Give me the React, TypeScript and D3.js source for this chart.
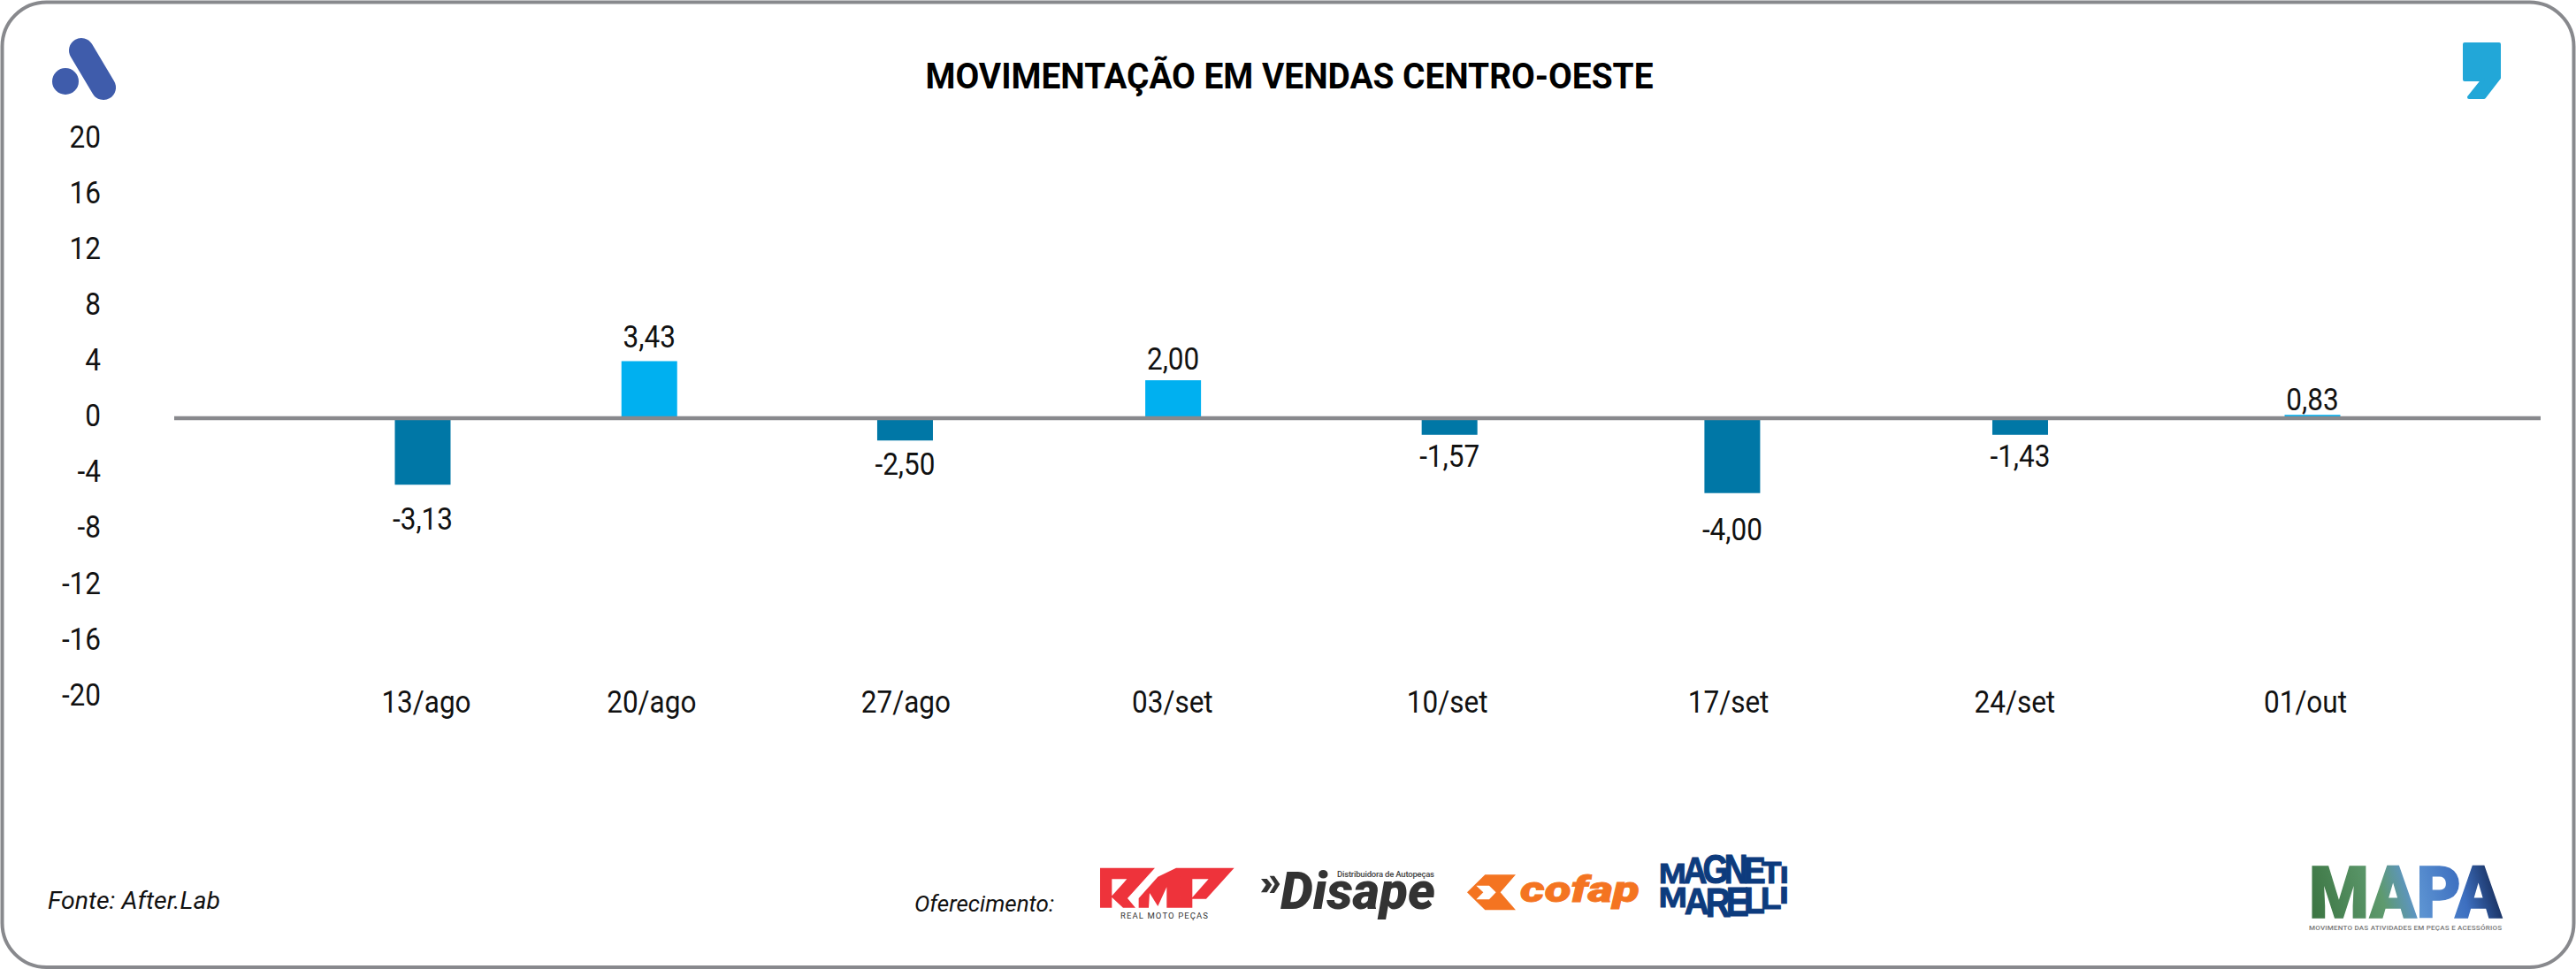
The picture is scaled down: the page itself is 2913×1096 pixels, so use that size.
import { useEffect, useRef } from 'react';
import * as d3 from 'd3';

const categories = ['13/ago', '20/ago', '27/ago', '03/set', '10/set', '17/set', '24/set', '01/out'];
// bar heights as read against the axis (they do not follow the printed labels)
const barValues = [-4.77, 4.09, -1.6, 2.72, -1.19, -5.37, -1.19, 0.24];
const barLabels = ['-3,13', '3,43', '-2,50', '2,00', '-1,57', '-4,00', '-1,43', '0,83'];
const yTicks = [20, 16, 12, 8, 4, 0, -4, -8, -12, -16, -20];

const FONT = 'Roboto, sans-serif';
const INK = '#111111';
const POS_COLOR = '#00b0f0';
const NEG_COLOR = '#0077a6';
const LINE_COLOR = '#88898d';
const MM_COLOR = '#0d3b7d';

// relative letter widths for the barrel shaped Magneti Marelli wordmark
const mmWeights: Record<string, number> = { M: 1.35, A: 1.1, G: 1.1, N: 1.1, E: 0.9, T: 0.9, I: 0.5, R: 1.1, L: 0.85 };

function BarrelWord({ word, top }: { word: string; top: boolean }) {
    const left = 1877;
    const width = 146;
    const capHeight = 36;
    const total = d3.sum(word.split(''), c => mmWeights[c]);
    let used = 0;
    return (
        <g fontFamily="'Liberation Sans Narrow', 'Liberation Sans', sans-serif" fontWeight={700} fontSize={50} fill={MM_COLOR} stroke={MM_COLOR} strokeWidth={1.3} textAnchor="middle">
            {word.split('').map((c, i) => {
                const w = mmWeights[c] / total;
                const t = used + w / 2;
                used += w;
                const bulge = 68 * t * (1 - t);
                const baseline = top ? 999 : 1020 + bulge;
                const height = top ? 999 - (982 - bulge) : 1020 + bulge - 1003;
                const sx = (w * width * 0.96) / (mmWeights[c] * 27);
                return (
                    <text key={i} transform={`translate(${left + t * width},${baseline}) scale(${sx},${height / capHeight})`}>
                        {c}
                    </text>
                );
            })}
        </g>
    );
}

function Logos() {
    return (
        <g>
            {/* A mark */}
            <circle cx={74} cy={92} r={15} fill="#3f5cab" />
            <line x1={92} y1={57} x2={117} y2={99} stroke="#3f5cab" strokeWidth={28} strokeLinecap="round" />

            {/* comma mark */}
            <path
                d="M2787,50 H2826 V88 L2809,110 H2792 L2808,90 H2787 Z"
                fill="#22a7d8"
                stroke="#22a7d8"
                strokeWidth={4}
                strokeLinejoin="round"
            />

            {/* RMP */}
            <g transform="translate(1220,960) scale(0.3333)" fill="#ee333b" fillRule="evenodd">
                <path d="M72,65 H258 L165,168 L192,200 H150 L112,165 V200 H72 Z M112,103 V160 L163,103 Z" />
                <path d="M203,200 V168 L268,95 L330,65 H345 V200 H298 V130 L268,195 L240,150 L237,200 Z" />
                <path d="M345,65 H527 L432,170 H385 V200 H345 Z M385,103 V165 L440,103 Z" />
            </g>
            <text x={1267} y={1039} fontFamily={FONT} fontSize={9.5} fill="#333" textLength={99} lengthAdjust="spacing">
                REAL MOTO PEÇAS
            </text>

            {/* Disape */}
            <g transform="translate(1220,960) scale(0.3333)" fill="#333333">
                <path d="M618,102 H638 L655,122 L638,148 H618 L635,122 Z" />
                <path d="M647,92 H663 L682,120 L663,150 H647 L665,120 Z" />
            </g>
            <text x={1448} y={1028} fontFamily={FONT} fontSize={59} fontWeight={900} fontStyle="italic" fill="#333333" textLength={175} lengthAdjust="spacingAndGlyphs">
                Disape
            </text>
            <text x={1512} y={992} fontFamily={FONT} fontSize={9.5} fontWeight={500} fill="#444" textLength={110} lengthAdjust="spacing">
                Distribuidora de Autopeças
            </text>

            {/* cofap */}
            <g transform="translate(1640,960) scale(0.3333)" fillRule="evenodd">
                <path
                    d="M57,148 L118,88 H222 L170,148 L222,208 H118 Z M88,125 L112,148 L88,172 H132 L155,148 L132,125 Z"
                    fill="#f47421"
                />
            </g>
            <text x={1719} y={1020} fontFamily={FONT} fontSize={40} fontWeight={900} fontStyle="italic" fill="#f47421" stroke="#f47421" strokeWidth={0.8} textLength={135} lengthAdjust="spacingAndGlyphs">
                cofap
            </text>

            {/* Magneti Marelli */}
            <BarrelWord word="MAGNETI" top={true} />
            <BarrelWord word="MARELLI" top={false} />

            {/* MAPA */}
            <linearGradient id="mapa-fill" gradientUnits="userSpaceOnUse" x1={2611} y1={1038} x2={2829} y2={980}>
                <stop offset="0%" stopColor="#3a7340" />
                <stop offset="38%" stopColor="#5e9a6e" />
                <stop offset="55%" stopColor="#5d94d2" />
                <stop offset="78%" stopColor="#3d6fc0" />
                <stop offset="100%" stopColor="#0f1f45" />
            </linearGradient>
            <text x={2611} y={1038} fontFamily={FONT} fontSize={82} fontWeight={900} fill="url(#mapa-fill)" stroke="url(#mapa-fill)" strokeWidth={1.5} textLength={218} lengthAdjust="spacingAndGlyphs">
                MAPA
            </text>
            <text x={2611} y={1052} fontFamily={FONT} fontSize={8} fontWeight={500} fill="#777" textLength={218} lengthAdjust="spacing">
                MOVIMENTO DAS ATIVIDADES EM PEÇAS E ACESSÓRIOS
            </text>
        </g>
    );
}

export default function App() {
    const chartRef = useRef<SVGGElement>(null);

    useEffect(() => {
        if (!chartRef.current) return;

        const root = d3.select(chartRef.current);
        root.selectAll('*').remove();

        const index = categories.map((_, i) => i);

        // the weekly slots widen a little from left to right in the original
        const x = d3.scalePow().exponent(1.09).domain([0, categories.length - 1]).range([478, 2615]);
        const xLabel = x.copy().range([482, 2607]);

        const y = d3.scaleLinear().domain([-20, 20]).range([788.5, 157.5]);
        const barWidth = 63;

        // The original face is narrower than Roboto, squeeze the glyphs to its width
        const narrow = (sel: d3.Selection<any, any, any, any>) => {
            sel.each(function (this: SVGTextElement) {
                this.setAttribute('textLength', String(this.getComputedTextLength() * 0.9));
                this.setAttribute('lengthAdjust', 'spacingAndGlyphs');
            });
        };

        // Y axis
        const yAxis = root.append('g')
            .attr('transform', 'translate(114,-2.5)')
            .call(d3.axisLeft(y).tickValues(yTicks).tickSize(0).tickPadding(0).tickFormat(d => String(d)));
        yAxis.select('.domain').remove();
        yAxis.selectAll('text')
            .attr('font-family', FONT)
            .attr('font-size', 35)
            .attr('fill', INK)
            .call(narrow);

        // Bars
        root.selectAll('.bar')
            .data(index)
            .enter()
            .append('rect')
            .attr('class', 'bar')
            .attr('x', i => x(i) - barWidth / 2)
            .attr('y', i => Math.min(y(barValues[i]), y(0)))
            .attr('width', barWidth)
            .attr('height', i => Math.abs(y(barValues[i]) - y(0)))
            .attr('fill', i => (barValues[i] < 0 ? NEG_COLOR : POS_COLOR));

        // Zero line
        root.append('line')
            .attr('x1', 197)
            .attr('x2', 2873)
            .attr('y1', y(0))
            .attr('y2', y(0))
            .attr('stroke', LINE_COLOR)
            .attr('stroke-width', 4.5);

        // Value labels sit further out the longer the bar is
        const labelY = (i: number) => {
            const len = Math.abs(y(barValues[i]) - y(0));
            return barValues[i] < 0 ? y(0) + len * 1.25 + 32 : y(0) - len * 1.16 - 5;
        };
        root.selectAll('.value')
            .data(index)
            .enter()
            .append('text')
            .attr('class', 'value')
            .attr('x', i => x(i))
            .attr('y', labelY)
            .attr('text-anchor', 'middle')
            .attr('font-family', FONT)
            .attr('font-size', 35)
            .attr('fill', INK)
            .text(i => barLabels[i])
            .call(narrow);

        // Category labels
        root.selectAll('.category')
            .data(index)
            .enter()
            .append('text')
            .attr('class', 'category')
            .attr('x', i => xLabel(i))
            .attr('y', 806)
            .attr('text-anchor', 'middle')
            .attr('font-family', FONT)
            .attr('font-size', 35)
            .attr('fill', INK)
            .text(i => categories[i])
            .call(narrow);
    }, []);

    return (
        <svg width={2913} height={1096} style={{ position: 'absolute', left: 0, top: 0, background: '#fff' }}>
            <rect x={2.5} y={2.5} width={2908} height={1091.5} rx={50} ry={50} fill="#fff" stroke={LINE_COLOR} strokeWidth={4} />
            <text x={1458} y={100} textAnchor="middle" fontFamily={FONT} fontSize={40} fontWeight={700} fill="#000" textLength={823} lengthAdjust="spacingAndGlyphs">
                MOVIMENTAÇÃO EM VENDAS CENTRO-OESTE
            </text>
            <g ref={chartRef} />
            <Logos />
            <text x={54} y={1028} fontFamily={FONT} fontSize={28} fontStyle="italic" fill={INK} textLength={195} lengthAdjust="spacingAndGlyphs">Fonte: After.Lab</text>
            <text x={1034} y={1031} fontFamily={FONT} fontSize={26} fontStyle="italic" fill={INK}>Oferecimento:</text>
        </svg>
    );
}
